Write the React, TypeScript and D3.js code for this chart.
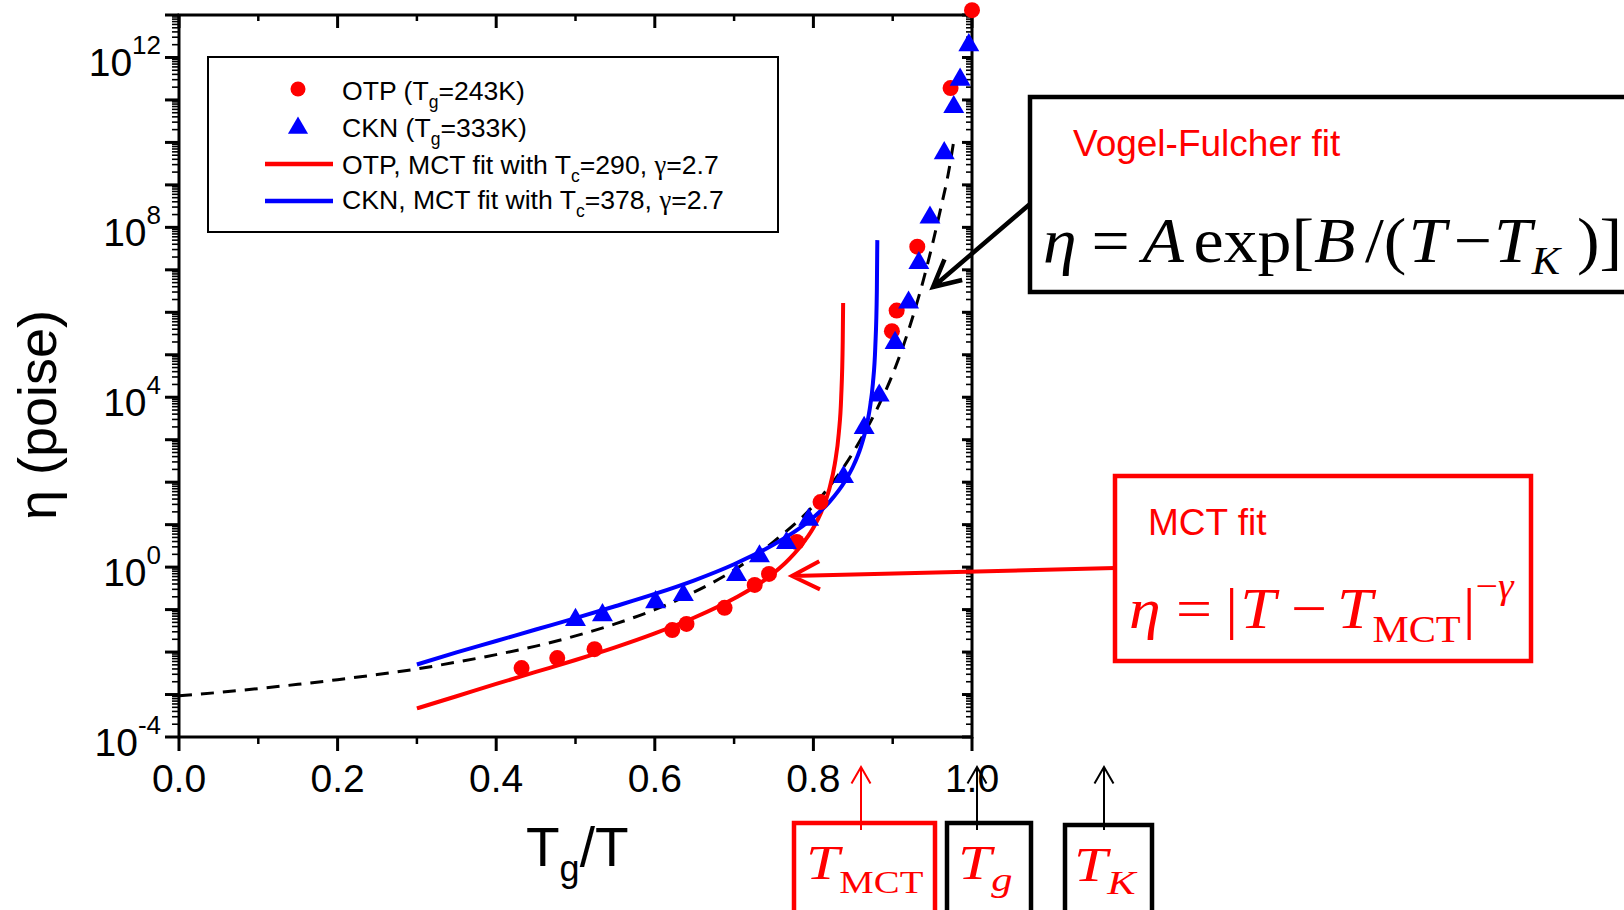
import React from 'react';
import * as d3 from 'd3';

// ---------- data (x = Tg/T, y = viscosity in poise) ----------
const otpX = [0.432, 0.477, 0.524, 0.622, 0.640, 0.688, 0.726, 0.744, 0.779, 0.809, 0.899, 0.905, 0.931, 0.973, 1.0];
const otpEta = [4.2e-3, 7.2e-3, 1.17e-2, 3.3e-2, 4.6e-2, 0.11, 0.38, 0.69, 3.9, 34, 3.6e5, 1.1e6, 3.5e7, 1.9e11, 1.3e13];

const cknX = [0.500, 0.534, 0.601, 0.636, 0.703, 0.732, 0.766, 0.794, 0.838, 0.864, 0.883, 0.903, 0.920, 0.933, 0.947, 0.965, 0.977, 0.985, 0.996];
const cknEta = [5.7e-2, 7.4e-2, 0.15, 0.22, 0.65, 1.8, 3.7, 13, 132, 1.9e3, 1.1e4, 1.9e5, 1.7e6, 1.45e7, 1.7e8, 5.6e9, 6.8e10, 3.0e11, 1.95e12];

const otpFitX = [0.30, 0.35, 0.40, 0.45, 0.50, 0.55, 0.60, 0.65, 0.70, 0.74, 0.77, 0.79, 0.80, 0.81, 0.82, 0.827, 0.832, 0.835, 0.837, 0.8375];
const otpFitEta = [4.7e-4, 9.1e-4, 1.78e-3, 3.4e-3, 6.5e-3, 1.29e-2, 2.75e-2, 6.5e-2, 0.182, 0.52, 1.58, 4.4, 8.5, 20, 68, 270, 1.41e3, 9.5e3, 2.1e5, 1.66e6];

const cknFitX = [0.30, 0.35, 0.40, 0.45, 0.50, 0.55, 0.60, 0.65, 0.70, 0.75, 0.78, 0.80, 0.82, 0.84, 0.85, 0.86, 0.866, 0.871, 0.875, 0.878, 0.880, 0.8806];
const cknFitEta = [5.1e-3, 9.8e-3, 1.82e-2, 3.4e-2, 6.3e-2, 0.12, 0.234, 0.49, 1.17, 3.4, 7.6, 14.8, 34, 107, 234, 690, 1.74e3, 5.2e3, 2.1e4, 1.45e5, 3.1e6, 5.0e7];

const vfX = [0, 0.05, 0.1, 0.15, 0.2, 0.25, 0.3, 0.35, 0.4, 0.45, 0.5, 0.55, 0.6, 0.65, 0.7, 0.75, 0.8, 0.85, 0.88, 0.9, 0.92, 0.94, 0.96, 0.97, 0.978];
const vfEta = [9.3e-4, 1.12e-3, 1.38e-3, 1.74e-3, 2.24e-3, 2.95e-3, 4.0e-3, 5.8e-3, 8.7e-3, 1.38e-2, 2.4e-2, 4.6e-2, 0.10, 0.26, 0.85, 4.0, 28, 500, 5.2e3, 3.5e4, 3.8e5, 7.1e6, 2.5e8, 1.8e9, 1.4e10];

const xTickValues = [0, 0.2, 0.4, 0.6, 0.8, 1.0];
const xTickLabels = ['0.0', '0.2', '0.4', '0.6', '0.8', '1.0'];
const xMinorValues = [0.1, 0.3, 0.5, 0.7, 0.9];
const yLabelExps = [-4, 0, 4, 8, 12];

const SANS = 'Liberation Sans, Arial, sans-serif';
const SERIF = 'Liberation Serif, Times New Roman, serif';
const RED = '#ff0000';
const BLUE = '#0000ff';

const zip = (a: number[], b: number[]) => a.map((v, i) => [v, b[i]] as [number, number]);

function arrowPath(x1: number, y1: number, x2: number, y2: number, len: number, angDeg: number) {
  const a = Math.atan2(y1 - y2, x1 - x2);
  const h = (angDeg * Math.PI) / 180;
  const w1 = [x2 + len * Math.cos(a + h), y2 + len * Math.sin(a + h)];
  const w2 = [x2 + len * Math.cos(a - h), y2 + len * Math.sin(a - h)];
  return `M${x1},${y1}L${x2},${y2}M${w1[0]},${w1[1]}L${x2},${y2}L${w2[0]},${w2[1]}`;
}

export default function App() {
  const L = 179, R = 972, T = 15, B = 737;
  const x = d3.scaleLinear().domain([0, 1]).range([L, R]);
  const y = d3.scaleLog().domain([1e-4, 1e13]).range([B, T]);
  const line = d3
    .line<[number, number]>()
    .x((d) => x(d[0]))
    .y((d) => y(d[1]))
    .curve(d3.curveMonotoneX);

  const majorDecades = d3.range(-4, 14);
  const minorY: number[] = [];
  for (let e = -4; e < 13; e++) for (let k = 2; k <= 9; k++) minorY.push(k * Math.pow(10, e));

  const tri = d3.symbol().type(d3.symbolTriangle).size(190)() as string;
  const triLegend = d3.symbol().type(d3.symbolTriangle).size(175)() as string;

  return (
    <svg width={1624} height={910} style={{ position: 'absolute', left: 0, top: 0, background: '#fff' }}>
      <rect x={0} y={0} width={1624} height={910} fill="#fff" />

      {/* ticks */}
      <g stroke="#000">
        {xTickValues.map((v) => (
          <g key={'xt' + v}>
            <line x1={x(v)} x2={x(v)} y1={B} y2={B + 14} strokeWidth={3} />
            <line x1={x(v)} x2={x(v)} y1={T} y2={T + 13} strokeWidth={3} />
          </g>
        ))}
        {xMinorValues.map((v) => (
          <g key={'xm' + v}>
            <line x1={x(v)} x2={x(v)} y1={B} y2={B + 7} strokeWidth={2.5} />
            <line x1={x(v)} x2={x(v)} y1={T} y2={T + 6} strokeWidth={2.5} />
          </g>
        ))}
        {majorDecades.map((e) => (
          <g key={'yt' + e}>
            <line x1={L - 14} x2={L} y1={y(Math.pow(10, e))} y2={y(Math.pow(10, e))} strokeWidth={3} />
            <line x1={R - 10} x2={R} y1={y(Math.pow(10, e))} y2={y(Math.pow(10, e))} strokeWidth={3} />
          </g>
        ))}
        {minorY.map((v, i) => (
          <g key={'ym' + i}>
            <line x1={L - 7} x2={L} y1={y(v)} y2={y(v)} strokeWidth={1.6} />
            <line x1={R - 6} x2={R} y1={y(v)} y2={y(v)} strokeWidth={1.6} />
          </g>
        ))}
      </g>
      <rect x={L} y={T} width={R - L} height={B - T} fill="none" stroke="#000" strokeWidth={3} />

      {/* tick labels */}
      <g fontFamily={SANS} fontSize={39} fill="#000">
        {xTickValues.map((v, i) => (
          <text key={'xl' + v} x={x(v)} y={792} textAnchor="middle">
            {xTickLabels[i]}
          </text>
        ))}
        {yLabelExps.map((e) => (
          <text key={'yl' + e} x={161} y={y(Math.pow(10, e)) + 19} textAnchor="end">
            10
            <tspan dy={-22} fontSize={26}>
              {String(e)}
            </tspan>
          </text>
        ))}
      </g>

      {/* axis titles */}
      <text x={526} y={866} fontFamily={SANS} fontSize={55} fill="#000">
        T
        <tspan dy={15} fontSize={36}>g</tspan>
        <tspan dy={-15}>/T</tspan>
      </text>
      <text
        transform="translate(56,415) rotate(-90)"
        textAnchor="middle"
        fontFamily={SANS}
        fontSize={54}
        fill="#000"
        style={{ whiteSpace: 'pre' }}
      >
        η (poise)
      </text>

      {/* legend */}
      <rect x={208} y={57} width={570} height={175} fill="#fff" stroke="#000" strokeWidth={2} />
      <circle cx={298} cy={89} r={7.5} fill={RED} />
      <path d={triLegend} transform="translate(298,128)" fill={BLUE} />
      <line x1={265} x2={333} y1={164} y2={164} stroke={RED} strokeWidth={4.5} />
      <line x1={265} x2={333} y1={201} y2={201} stroke={BLUE} strokeWidth={4.5} />
      <g fontFamily={SANS} fontSize={26.6} fill="#000" style={{ whiteSpace: 'pre' }}>
        <text x={342} y={100}>
          OTP (T<tspan dy={8} fontSize={17.5}>g</tspan>
          <tspan dy={-8}>=243K)</tspan>
        </text>
        <text x={342} y={137}>
          CKN (T<tspan dy={8} fontSize={17.5}>g</tspan>
          <tspan dy={-8}>=333K)</tspan>
        </text>
        <text x={342} y={174}>
          OTP, MCT fit with T<tspan dy={8} fontSize={17.5}>c</tspan>
          <tspan dy={-8}>=290, </tspan>
          <tspan fontFamily={SERIF}>γ</tspan>
          <tspan>=2.7</tspan>
        </text>
        <text x={342} y={209}>
          CKN, MCT fit with T<tspan dy={8} fontSize={17.5}>c</tspan>
          <tspan dy={-8}>=378, </tspan>
          <tspan fontFamily={SERIF}>γ</tspan>
          <tspan>=2.7</tspan>
        </text>
      </g>

      {/* curves */}
      <path d={line(zip(vfX, vfEta)) || ''} fill="none" stroke="#000" strokeWidth={3} strokeDasharray="13,9" />
      <path d={line(zip(otpFitX, otpFitEta)) || ''} fill="none" stroke={RED} strokeWidth={4} />
      <path d={line(zip(cknFitX, cknFitEta)) || ''} fill="none" stroke={BLUE} strokeWidth={4} />

      {/* markers */}
      {otpX.map((v, i) => (
        <circle key={'o' + i} cx={x(v)} cy={y(otpEta[i])} r={8} fill={RED} />
      ))}
      {cknX.map((v, i) => (
        <path key={'c' + i} d={tri} transform={`translate(${x(v)},${y(cknEta[i])})`} fill={BLUE} />
      ))}

      {/* Vogel-Fulcher annotation */}
      <rect x={1030} y={97} width={640} height={195} fill="none" stroke="#000" strokeWidth={4.5} />
      <text x={1073} y={156} fontFamily={SANS} fontSize={37} fill={RED}>
        Vogel-Fulcher fit
      </text>
      <g transform="translate(1043,262) scale(1.06,1)">
        <text x={0} y={0} fontFamily={SERIF} fontSize={64} fill="#000">
          <tspan fontStyle="italic">η</tspan>
          <tspan dx={14}>=</tspan>
          <tspan dx={12} fontStyle="italic">A</tspan>
          <tspan dx={9}>exp[</tspan>
          <tspan fontStyle="italic">B</tspan>
          <tspan dx={9}>/(</tspan>
          <tspan dx={2} fontStyle="italic">T</tspan>
          <tspan dx={7}>−</tspan>
          <tspan dx={2} fontStyle="italic">T</tspan>
          <tspan fontStyle="italic" fontSize={40} dy={12}>K</tspan>
          <tspan dy={-12} dx={16}>)]</tspan>
        </text>
      </g>
      <path d={arrowPath(1030, 204, 933, 287, 30, 27)} fill="none" stroke="#000" strokeWidth={4.5} />

      {/* MCT annotation */}
      <rect x={1115} y={476} width={416} height={185} fill="none" stroke={RED} strokeWidth={4.5} />
      <text x={1148} y={535} fontFamily={SANS} fontSize={37} fill={RED}>
        MCT fit
      </text>
      <g transform="translate(1129,628) scale(1.1,1)">
        <text x={0} y={0} fontFamily={SERIF} fontSize={58} fill={RED}>
          <tspan fontStyle="italic">η</tspan>
          <tspan dx={14}>=</tspan>
          <tspan dx={12}>|</tspan>
          <tspan dx={2} fontStyle="italic">T</tspan>
          <tspan dx={14}>−</tspan>
          <tspan dx={9} fontStyle="italic">T</tspan>
          <tspan fontSize={37} dy={14}>MCT</tspan>
          <tspan dx={2} dy={-14}>|</tspan>
          <tspan fontSize={36} dy={-30}>−</tspan>
          <tspan fontSize={36} fontStyle="italic">γ</tspan>
        </text>
      </g>
      <path d={arrowPath(1115, 568, 792, 576, 31, 27)} fill="none" stroke={RED} strokeWidth={4} />

      {/* temperature markers below axis */}
      <rect x={794} y={823} width={141} height={110} fill="none" stroke={RED} strokeWidth={4.5} />
      <g transform="translate(806,879) scale(1.25,1)">
        <text x={0} y={0} fontFamily={SERIF} fontSize={48} fill={RED}>
          <tspan fontStyle="italic">T</tspan>
          <tspan fontSize={31} dy={14}>MCT</tspan>
        </text>
      </g>
      <path d={arrowPath(861, 830, 861, 767, 19, 30)} fill="none" stroke={RED} strokeWidth={2} />

      <rect x={947} y={823} width={84} height={110} fill="none" stroke="#000" strokeWidth={4.5} />
      <g transform="translate(958,879) scale(1.25,1)">
        <text x={0} y={0} fontFamily={SERIF} fontSize={48} fill={RED}>
          <tspan fontStyle="italic">T</tspan>
          <tspan fontStyle="italic" fontSize={34} dy={12}>g</tspan>
        </text>
      </g>
      <path d={arrowPath(977, 830, 977, 767, 19, 30)} fill="none" stroke="#000" strokeWidth={2} />

      <rect x={1065} y={825} width={87} height={110} fill="none" stroke="#000" strokeWidth={4.5} />
      <g transform="translate(1074,881) scale(1.25,1)">
        <text x={0} y={0} fontFamily={SERIF} fontSize={48} fill={RED}>
          <tspan fontStyle="italic">T</tspan>
          <tspan fontStyle="italic" fontSize={34} dy={13}>K</tspan>
        </text>
      </g>
      <path d={arrowPath(1104, 830, 1104, 767, 19, 30)} fill="none" stroke="#000" strokeWidth={2} />
    </svg>
  );
}
